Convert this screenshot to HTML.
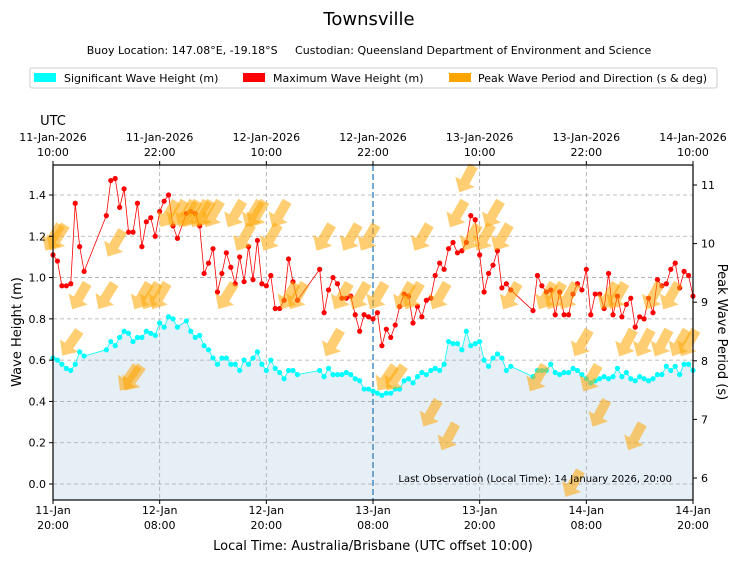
<!DOCTYPE html>
<html><head><meta charset="utf-8">
<style>
body{margin:0;background:#fff;font-family:"Liberation Sans","DejaVu Sans",sans-serif;}
svg text{font-family:"DejaVu Sans","Liberation Sans",sans-serif;}
</style></head>
<body>
<svg id="chart" width="739" height="562" viewBox="0 0 739 562" xmlns="http://www.w3.org/2000/svg">
<text x="369" y="25" text-anchor="middle" font-size="18">Townsville</text>
<text x="369" y="54" text-anchor="middle" font-size="11" style="white-space:pre">Buoy Location: 147.08°E, -19.18°S     Custodian: Queensland Department of Environment and Science</text>
<g>
<rect x="30" y="68" width="687" height="20" fill="#fff" stroke="#ccc" rx="2"/>
<g><rect x="34" y="73" width="22" height="9" fill="#00ffff"/><text x="64" y="82" font-size="11">Significant Wave Height (m)</text></g>
<g><rect x="243" y="73" width="22" height="9" fill="#ff0000"/><text x="273" y="82" font-size="11">Maximum Wave Height (m)</text></g>
<g><rect x="449" y="73" width="22" height="9" fill="#ffa500"/><text x="478" y="82" font-size="11">Peak Wave Period and Direction (s &amp; deg)</text></g>
</g>
<text x="53" y="125" text-anchor="middle" font-size="13">UTC</text>
<g id="plot"></g>
<text x="672" y="482" text-anchor="end" font-size="10">Last Observation (Local Time): 14 January 2026, 20:00</text>
<text x="373" y="550" text-anchor="middle" font-size="13">Local Time: Australia/Brisbane (UTC offset 10:00)</text>
<text x="21" y="332" text-anchor="middle" font-size="13" transform="rotate(-90 21 332)">Wave Height (m)</text>
<text x="718" y="332" text-anchor="middle" font-size="13" transform="rotate(90 718 332)">Peak Wave Period (s)</text>
</svg>
<script>
const hs=[.61,.60,.58,.56,.55,.58,.64,.62,null,null,null,null,.65,.69,.67,.71,.74,.73,.69,.71,.71,.74,.73,.72,.78,.76,.81,.80,.76,null,.79,.74,.71,.72,.67,.65,.61,.58,.61,.61,.58,.58,.55,.60,.58,.61,.64,.58,.55,.60,.56,.54,.51,.55,.55,.53,null,null,null,null,.55,.52,.56,.53,.53,.53,.54,.53,.51,.50,.46,.46,.45,.44,.43,.44,.44,.46,.46,.50,.51,.49,.52,.54,.53,.55,.56,.55,.58,.69,.68,.68,.65,.74,.67,.68,.69,.60,.57,.61,.63,.61,.55,.57,null,null,null,null,.52,.55,.55,.55,.58,.54,.53,.54,.54,.56,.55,.53,.51,.49,.50,.51,.52,.51,.52,.56,.52,.54,.51,.50,.52,.51,.50,.51,.53,.53,.57,.55,.57,.53,.58,.58,.55];
const hmax=[1.11,1.08,.96,.96,.97,1.36,1.15,1.03,null,null,null,null,1.30,1.47,1.48,1.34,1.43,1.22,1.22,1.36,1.15,1.27,1.29,1.20,1.32,1.37,1.40,1.25,1.19,null,1.31,1.32,1.31,1.25,1.02,1.07,1.14,.93,1.02,1.12,1.05,.97,1.10,.98,1.15,.99,1.18,.97,.96,1.01,.85,.85,.89,1.09,.98,.89,null,null,null,null,1.04,.83,.94,1.00,.97,.90,.90,.91,.82,.74,.82,.81,.80,.83,.67,.75,.71,.77,.86,.92,.91,.78,.86,.81,.89,.90,1.01,1.07,1.04,1.14,1.17,1.12,1.13,1.17,1.30,1.28,1.11,.93,1.02,1.06,1.13,.95,.97,.94,null,null,null,null,.84,1.01,.96,.93,.94,.82,.93,.82,.82,.92,.97,.94,1.04,.82,.92,.92,.85,1.02,.82,.91,.81,.87,.90,.76,.81,.80,.90,.83,.99,.96,.97,1.04,1.07,.95,1.03,1.01,.91];
const arrowIdx=[0,1,4,6,12,14,17,18,20,22,24,26,28,30,31,33,34,36,39,41,43,45,46,49,51,53,55,61,63,65,67,69,71,73,75,77,79,81,83,85,87,89,91,93,94,97,99,101,103,109,111,113,116,117,119,121,123,125,127,129,131,133,135,137,139,141,143];
const arrowPeriod=[10.1,10.1,8.3,9.1,9.1,10.0,7.7,7.7,9.1,9.1,9.1,10.5,10.5,10.5,10.5,10.5,10.5,10.5,9.1,10.5,10.1,10.5,10.5,10.1,10.5,9.1,9.1,10.1,8.3,9.1,10.1,9.1,10.1,9.1,7.7,7.7,9.1,9.1,10.1,7.1,9.1,6.7,10.5,11.1,10.1,10.1,10.5,10.1,9.1,7.7,9.1,9.1,9.1,5.9,8.3,7.7,7.1,9.1,9.1,8.3,6.7,8.3,9.1,8.3,9.1,8.3,8.3];
const arrowDir=[30,32,35,30,32,30,35,35,30,30,30,32,30,30,30,30,30,30,32,30,30,30,30,30,30,30,30,30,30,30,30,30,30,30,35,35,30,30,30,30,30,28,30,28,30,30,30,30,30,30,30,30,30,30,30,30,28,30,30,28,28,28,28,28,30,30,30];
const xTicksLocal=["11-Jan|20:00","12-Jan|08:00","12-Jan|20:00","13-Jan|08:00","13-Jan|20:00","14-Jan|08:00","14-Jan|20:00"];
const xTicksUTC=["11-Jan-2026|10:00","11-Jan-2026|22:00","12-Jan-2026|10:00","12-Jan-2026|22:00","13-Jan-2026|10:00","13-Jan-2026|22:00","14-Jan-2026|10:00"];
const yTicks=[0.0,0.2,0.4,0.6,0.8,1.0,1.2,1.4];
const yRTicks=[6,7,8,9,10,11];

const L=53,R=693,T=165,B=500,N=144;
const X=i=>L+i*(R-L)/N;
const Y=v=>484-v*206.43;
const YR=p=>478-(p-6)*58.6;
const NS="http://www.w3.org/2000/svg";
const plot=document.getElementById('plot');
function mk(tag,attrs,parent){const e=document.createElementNS(NS,tag);for(const k in attrs)e.setAttribute(k,attrs[k]);(parent||plot).appendChild(e);return e;}

const hsPts=[];hs.forEach((v,i)=>{if(v!==null)hsPts.push([X(i),Y(v)]);});
const area=mk('path',{d:'M'+hsPts[0][0]+','+Y(0)+' '+hsPts.map(p=>'L'+p[0]+','+p[1]).join(' ')+' L'+hsPts[hsPts.length-1][0]+','+Y(0)+' L'+L+','+B+' L'+R+','+B+' L'+R+','+Y(0)+'Z',fill:'#e6eef6'});


const areaBottom=mk('rect',{x:L,y:Y(0),width:R-L,height:B-Y(0),fill:'#e6eef6'});



yTicks.forEach(v=>{const g=mk('line',{x1:L,x2:R,y1:Y(v),y2:Y(v),stroke:'#aaa','stroke-dasharray':'4,3','stroke-width':0.8});

});
xTicksLocal.forEach((t,k)=>{const x=X(k*24);if(k>0&&k<6&&k!==3){const g=mk('line',{x1:x,x2:x,y1:T,y2:B,stroke:'#aaa','stroke-dasharray':'4,3','stroke-width':0.8});

}});
const vl=mk('line',{x1:X(72),x2:X(72),y1:T,y2:B,stroke:'#4a8bbf','stroke-dasharray':'6,3','stroke-width':1.5});



function series(arr,color,name){
  const pts=[];arr.forEach((v,i)=>{if(v!==null)pts.push([X(i),Y(v)]);});
  const pl=mk('polyline',{points:pts.map(p=>p.join(',')).join(' '),fill:'none',stroke:color,'stroke-width':0.8});
  
  
  pts.forEach(p=>{const c=mk('circle',{cx:p[0],cy:p[1],r:2.6,fill:color});
  
  });
}
series(hs,'#00ffff','hs');
series(hmax,'#ff0000','hmax');

arrowIdx.forEach((i,k)=>{
  const a=mk('path',{d:'M-5,-15 L5,-15 L5,3 L11,3 L0,15 L-11,3 L-5,3 Z',fill:'#ffa500','fill-opacity':0.55,transform:'translate('+X(i)+','+YR(arrowPeriod[k])+') rotate('+arrowDir[k]+')'});
  
  
});

const fr=mk('rect',{x:L,y:T,width:R-L,height:B-T,fill:'none',stroke:'#000','stroke-width':1.2});



yTicks.forEach(v=>{mk('line',{x1:L-4,x2:L,y1:Y(v),y2:Y(v),stroke:'#000'});
const t=mk('text',{x:L-7,y:Y(v)+4,'text-anchor':'end','font-size':11});t.textContent=v.toFixed(1);

});
yRTicks.forEach(p=>{mk('line',{x1:R,x2:R+4,y1:YR(p),y2:YR(p),stroke:'#000'});
const t=mk('text',{x:R+8,y:YR(p)+4,'font-size':11});t.textContent=p;

});
xTicksLocal.forEach((s,k)=>{const x=X(k*24);mk('line',{x1:x,x2:x,y1:B,y2:B+4,stroke:'#000'});
const p=s.split('|');const t=mk('text',{x:x,y:514,'text-anchor':'middle','font-size':11});t.textContent=p[0];


const t2=mk('text',{x:x,y:529,'text-anchor':'middle','font-size':11});t2.textContent=p[1];

});
xTicksUTC.forEach((s,k)=>{const x=X(k*24);mk('line',{x1:x,x2:x,y1:T-4,y2:T,stroke:'#000'});
const p=s.split('|');const t=mk('text',{x:x,y:141,'text-anchor':'middle','font-size':11});t.textContent=p[0];


const t2=mk('text',{x:x,y:156,'text-anchor':'middle','font-size':11});t2.textContent=p[1];

});
</script>
</body></html>
